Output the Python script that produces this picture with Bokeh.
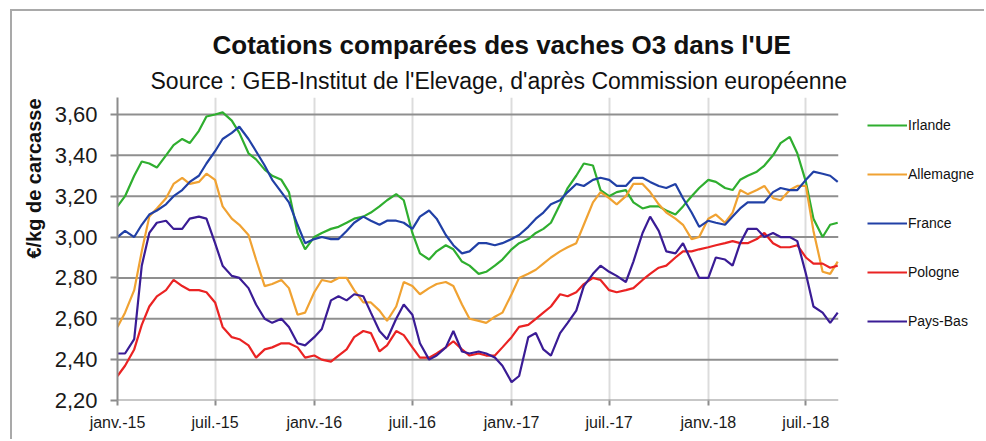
import pandas as pd
from bokeh.plotting import figure
from bokeh.models import Range1d, FixedTicker, CustomJSTickFormatter, Title, Legend, LegendItem
from bokeh.embed import file_html
from bokeh.resources import INLINE

# ---- data (semi-monthly) ----
dates = [f"{y}-{m:02d}-{d:02d}" for y in (2015, 2016, 2017, 2018) for m in range(1, 13) for d in (1, 15)
         if (y, m) <= (2018, 8)] + ["2018-08-29"]

irlande = [3.15, 3.20, 3.30, 3.37, 3.36, 3.34, 3.40, 3.45, 3.48, 3.46, 3.52, 3.59, 3.60, 3.61, 3.57, 3.51, 3.41, 3.38, 3.33, 3.30, 3.28, 3.22, 3.02, 2.94,
           3.00, 3.02, 3.04, 3.05, 3.07, 3.09, 3.10, 3.12, 3.15, 3.18, 3.21, 3.18, 3.02, 2.92, 2.89, 2.93, 2.96, 2.94, 2.88, 2.86, 2.82, 2.83, 2.86, 2.89,
           2.94, 2.97, 2.99, 3.02, 3.04, 3.07, 3.16, 3.24, 3.30, 3.36, 3.35, 3.23, 3.20, 3.22, 3.23, 3.17, 3.14, 3.15, 3.15, 3.13, 3.11, 3.15, 3.20, 3.24,
           3.28, 3.27, 3.24, 3.23, 3.28, 3.30, 3.32, 3.35, 3.40, 3.46, 3.49, 3.41, 3.27, 3.09, 3.00, 3.06, 3.07]
allemagne = [2.56, 2.63, 2.74, 2.93, 3.10, 3.14, 3.19, 3.26, 3.29, 3.26, 3.27, 3.31, 3.28, 3.15, 3.09, 3.06, 3.01, 2.89, 2.76, 2.77, 2.79, 2.75, 2.62, 2.63,
             2.73, 2.79, 2.78, 2.80, 2.80, 2.74, 2.68, 2.68, 2.64, 2.59, 2.66, 2.78, 2.76, 2.72, 2.75, 2.77, 2.78, 2.76, 2.67, 2.60, 2.59, 2.58, 2.61, 2.63,
             2.72, 2.80, 2.82, 2.84, 2.87, 2.90, 2.93, 2.95, 2.97, 3.06, 3.17, 3.22, 3.19, 3.16, 3.20, 3.26, 3.26, 3.22, 3.16, 3.12, 3.09, 3.06, 2.99, 3.00,
             3.09, 3.11, 3.07, 3.12, 3.23, 3.21, 3.23, 3.25, 3.19, 3.18, 3.23, 3.25, 3.25, 3.03, 2.83, 2.82, 2.88]
france = [3.00, 3.03, 3.00, 3.06, 3.11, 3.13, 3.16, 3.20, 3.23, 3.27, 3.30, 3.36, 3.42, 3.48, 3.51, 3.54, 3.48, 3.42, 3.35, 3.28, 3.22, 3.17, 3.06, 2.97,
          2.99, 3.00, 2.99, 2.99, 3.03, 3.07, 3.10, 3.08, 3.06, 3.08, 3.08, 3.07, 3.04, 3.10, 3.13, 3.09, 3.01, 2.96, 2.92, 2.93, 2.97, 2.97, 2.96, 2.97,
          2.99, 3.01, 3.05, 3.09, 3.12, 3.16, 3.18, 3.22, 3.26, 3.25, 3.28, 3.29, 3.28, 3.25, 3.25, 3.29, 3.29, 3.27, 3.25, 3.24, 3.26, 3.19, 3.12, 3.05,
          3.08, 3.07, 3.06, 3.10, 3.14, 3.17, 3.17, 3.17, 3.22, 3.24, 3.23, 3.23, 3.28, 3.32, 3.31, 3.30, 3.27]
pologne = [2.32, 2.37, 2.45, 2.57, 2.66, 2.71, 2.74, 2.79, 2.76, 2.74, 2.74, 2.73, 2.68, 2.56, 2.51, 2.50, 2.47, 2.41, 2.45, 2.46, 2.48, 2.48, 2.46, 2.41,
           2.42, 2.40, 2.39, 2.42, 2.45, 2.51, 2.54, 2.53, 2.44, 2.47, 2.54, 2.52, 2.46, 2.41, 2.41, 2.43, 2.46, 2.49, 2.45, 2.42, 2.43, 2.42, 2.42, 2.46,
           2.51, 2.56, 2.57, 2.60, 2.63, 2.66, 2.72, 2.71, 2.73, 2.77, 2.80, 2.79, 2.74, 2.73, 2.74, 2.75, 2.79, 2.82, 2.85, 2.86, 2.90, 2.93, 2.93, 2.94,
           2.95, 2.96, 2.97, 2.98, 2.97, 2.97, 2.99, 3.02, 2.97, 2.95, 2.95, 2.96, 2.90, 2.87, 2.87, 2.85, 2.86]
pays_bas = [2.43, 2.43, 2.50, 2.86, 3.02, 3.07, 3.08, 3.04, 3.04, 3.09, 3.10, 3.09, 2.97, 2.86, 2.81, 2.80, 2.75, 2.67, 2.60, 2.58, 2.60, 2.56, 2.48, 2.47,
            2.51, 2.55, 2.69, 2.71, 2.69, 2.72, 2.71, 2.63, 2.54, 2.50, 2.60, 2.67, 2.62, 2.48, 2.40, 2.42, 2.46, 2.54, 2.44, 2.43, 2.44, 2.43, 2.41, 2.37,
            2.29, 2.32, 2.51, 2.53, 2.45, 2.42, 2.53, 2.58, 2.64, 2.76, 2.82, 2.86, 2.83, 2.81, 2.78, 2.88, 3.02, 3.10, 3.03, 2.93, 2.92, 2.97, 2.88, 2.80,
            2.80, 2.90, 2.89, 2.86, 2.97, 3.04, 3.04, 3.00, 3.02, 3.00, 3.00, 2.98, 2.82, 2.66, 2.63, 2.58, 2.63]

series_names = ["Irlande", "Allemagne", "France", "Pologne", "Pays-Bas"]
series_values = [irlande, allemagne, france, pologne, pays_bas]
series_colors = ["#2fae2f", "#f0a232", "#2140a6", "#ea2323", "#3a1c95"]

x_tick_dates = ["2015-01-01", "2015-07-01", "2016-01-01", "2016-07-01",
                "2017-01-01", "2017-07-01", "2018-01-01", "2018-07-01"]
x_tick_labels = ["janv.-15", "juil.-15", "janv.-16", "juil.-16",
                 "janv.-17", "juil.-17", "janv.-18", "juil.-18"]
y_ticks = [2.20, 2.40, 2.60, 2.80, 3.00, 3.20, 3.40, 3.60]
y_tick_labels = ["2,20", "2,40", "2,60", "2,80", "3,00", "3,20", "3,40", "3,60"]

title_text = "Cotations comparées des vaches O3 dans l'UE"
subtitle_text = "Source : GEB-Institut de l'Elevage, d'après Commission européenne"
ylabel_text = "€/kg de carcasse"

FONT = "Liberation Sans"
plot_start = pd.Timestamp("2015-01-01")
plot_end = pd.Timestamp("2018-08-30")      # right end of the plotting area
view_end = pd.Timestamp("2019-06-01")      # canvas edge (legend lives in this space)

x = pd.to_datetime(dates)
x_tick_ms = [float(pd.Timestamp(d).value // 10**6) for d in x_tick_dates]

# canvas starts at page (12, 11) because of the frame border + margin
p = figure(width=974, height=430, x_axis_type="datetime",
           x_range=Range1d(plot_start, view_end),
           y_range=Range1d(2.2, 3.683),
           output_backend="svg", toolbar_location=None,
           min_border_left=105, min_border_right=0, min_border_top=86, min_border_bottom=41)
p.styles = {"border-left": "2px solid #a9a9a9", "border-top": "2px solid #a9a9a9",
            "margin-left": "10px", "margin-top": "9px"}
p.title = None
p.outline_line_color = None
p.background_fill_color = "white"
p.border_fill_color = "white"

# horizontal grid lines, limited to the plotting area
p.ygrid.grid_line_color = None
p.segment(x0=[plot_start] * len(y_ticks), x1=[plot_end] * len(y_ticks), y0=y_ticks, y1=y_ticks,
          line_color="#8f8f8f", line_width=2)
p.xgrid.grid_line_color = "#dcdcdc"
p.xgrid.grid_line_width = 2

renderers = []
for name, vals, col in zip(series_names, series_values, series_colors):
    r = p.line(x, vals, line_color=col, line_width=2.2)
    renderers.append(r)

LOOKUP = """
let b = 0;
for (let i = 0; i < tvals.length; i++) { if (Math.abs(tvals[i] - tick) < Math.abs(tvals[b] - tick)) b = i; }
return tlabels[b];
"""

# axes
p.xaxis.ticker = FixedTicker(ticks=x_tick_ms)
p.xaxis.formatter = CustomJSTickFormatter(args=dict(tvals=x_tick_ms, tlabels=x_tick_labels), code=LOOKUP)
p.yaxis.ticker = FixedTicker(ticks=y_ticks)
p.yaxis.formatter = CustomJSTickFormatter(args=dict(tvals=y_ticks, tlabels=y_tick_labels), code=LOOKUP)
for ax in (p.xaxis, p.yaxis):
    ax.axis_line_color = "#8c8c8c"
    ax.axis_line_width = 2
    ax.major_tick_line_color = "#8c8c8c"
    ax.major_tick_line_width = 2
    ax.major_tick_in = 0
    ax.minor_tick_line_color = None
    ax.major_label_text_font = FONT
    ax.major_label_text_color = "#1a1a1a"
p.xaxis.axis_line_color = None
p.yaxis.major_tick_out = 7
p.yaxis.major_label_standoff = 13
p.yaxis.major_label_text_font_size = "22px"
p.xaxis.major_tick_out = 5
p.xaxis.major_label_standoff = 8
p.xaxis.major_label_text_font_size = "16px"

# titles (first added is nearest to the frame)
p.add_layout(Title(text=subtitle_text, align="left", offset=33, standoff=8,
                   text_font=FONT, text_font_size="23px", text_font_style="normal",
                   text_color="#111111"), "above")
p.add_layout(Title(text=title_text, align="left", offset=95, standoff=4,
                   text_font=FONT, text_font_size="26px", text_font_style="bold",
                   text_color="#111111"), "above")
# y-axis title, aligned to the top of the axis as in the original
p.add_layout(Title(text=ylabel_text, align="right", offset=1, standoff=14,
                   text_font=FONT, text_font_size="20px", text_font_style="bold",
                   text_color="#111111"), "left")

legend = Legend(items=[LegendItem(label=n, renderers=[r]) for n, r in zip(series_names, renderers)],
                location=(750, 69), glyph_width=40, glyph_height=20, label_height=20,
                label_standoff=1, spacing=29, padding=0, margin=0,
                border_line_color=None, background_fill_alpha=0,
                label_text_font=FONT, label_text_font_size="14px", label_text_color="#111111")
p.add_layout(legend)

open("out.html", "w").write(file_html(p, INLINE))
